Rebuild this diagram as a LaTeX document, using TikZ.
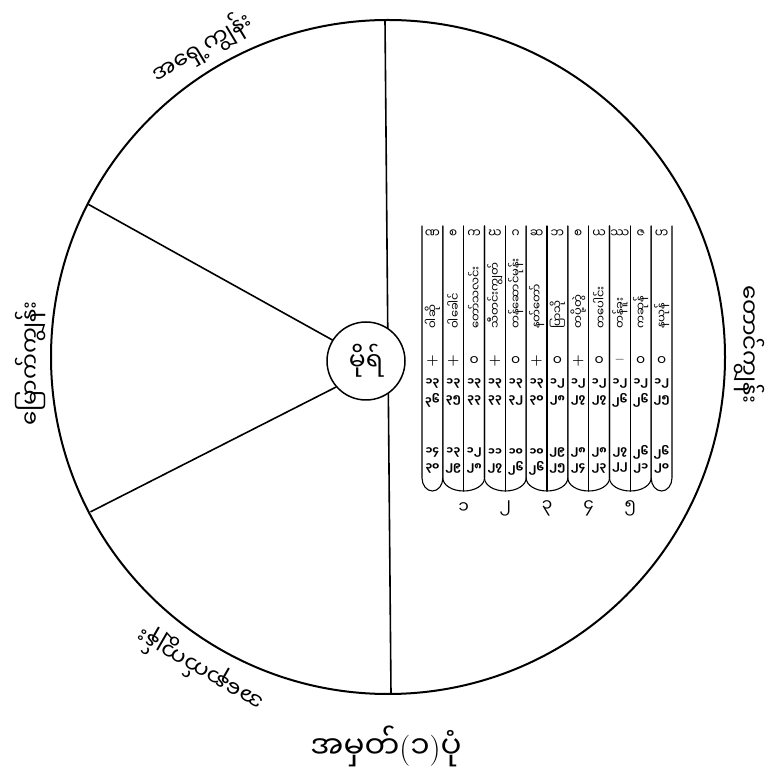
\documentclass[tikz,border=0pt]{standalone}
\usepackage{fontspec}
\newfontfamily\mya[Script=Myanmar]{Noto Sans Myanmar UI}
\newcommand\lpar{{\normalfont(}}
\newcommand\rpar{{\normalfont)}}
\newcommand\plus{{\normalfont\bfseries +}}
\newcommand\minus{{\normalfont\bfseries --}}

\begin{document}
\begin{tikzpicture}[x=1pt, y=1pt, line cap=round,
  island/.style={font=\mya\fontsize{23}{26}\selectfont, inner sep=0pt},
  cell/.style={font=\mya\bfseries\fontsize{10.5}{11}\selectfont, inner sep=0pt},
  tube/.style={line width=1.1pt}]
\useasboundingbox[fill=white] (0,0) rectangle (776,774);

\coordinate (c) at (388,417);
\coordinate (n) at (385,754);
\coordinate (s) at (391,80);
\coordinate (wu) at ([shift={(153:337)}]c);
\coordinate (wd) at ([shift={(207.5:335)}]c);
\draw[line width=2pt] (c) circle[radius=337pt];
\draw[line width=1.6pt] (n) -- (s);
\node[circle, draw, line width=1.5pt, fill=white, minimum size=78pt, inner sep=0pt,
  font=\mya\fontsize{25}{26}\selectfont] (meru) at (366,413) {မိုရ်};
\draw[line width=1.6pt] (wu) -- (meru.148);
\draw[line width=1.6pt] (wd) -- (meru.221);

\node[island, rotate=31] (east) at ([shift={(121:361)}]c) {အရှေ့ကျွန်း};
\node[island, rotate=-90] (south) at ([shift={(2:362)}]c) {တောင်ကျွန်း};
\node[island, rotate=90] (north) at ([shift={(181:358)}]c) {မြောက်ကျွန်း};
\node[island, rotate=150] (west) at ([shift={(239:364)}]c) {အနောက်ကျွန်း};
\node[island, font=\mya\fontsize{31}{34}\selectfont] (caption) at (386,28)
  {အမှတ်\lpar ၁\rpar ပုံ};

\foreach \xl/\xr in {422/442.83, 651.17/672}
  \draw[tube] (\xl,548) -- (\xl,296)
    arc[start angle=180, end angle=360, x radius=10.4pt, y radius=13pt] -- (\xr,548);
\foreach \xl/\xm/\xr/\g in {442.83/463.67/484.5/၁, 484.5/505.33/526.17/၂,
    526.17/547/567.83/၃, 567.83/588.67/609.5/၄, 609.5/630.33/651.17/၅}{
  \draw[tube] (\xl,548) -- (\xl,296)
    arc[start angle=180, end angle=360, x radius=20.83pt, y radius=13pt] -- (\xr,548);
  \draw[tube] (\xm,548) -- (\xm,283);
  \node[cell, font=\mya\fontsize{17}{18}\selectfont] (grp\g) at (\xm,266) {\g};
}

\foreach \lt/\mn/\sy/\na/\nb/\nc/\nd [count=\i] in {
    ဏ/ဝါဆို/\plus/၁၃/၃၆/၁၄/၃၀,
    စ/ဝါခေါင်/\plus/၁၃/၃၅/၁၃/၂၉,
    က/တော်သလင်း/၀/၁၃/၃၃/၁၂/၂၈,
    ဃ/သီတင်းကျွတ်/\plus/၁၃/၃၃/၁၁/၂၇,
    ဂ/တန်ဆောင်မုန်း/၀/၁၃/၃၂/၁၀/၂၆,
    ဆ/နတ်တော်/\plus/၁၃/၃၀/၁၀/၂၆,
    ဘ/ပြာသို/၀/၁၂/၂၈/၂၉/၂၅,
    စ/တပို့တွဲ/\plus/၁၂/၂၇/၂၈/၂၄,
    ယ/တပေါင်း/၀/၁၂/၂၇/၂၈/၂၃,
    ဿ/တန်ခူး/\minus/၁၂/၂၆/၂၇/၂၂,
    ဇ/ကဆုန်/၀/၁၂/၂၆/၂၆/၂၁,
    ဟ/နယုန်/၀/၁၂/၂၅/၂၆/၂၀}{
  \pgfmathsetmacro\xc{422+20.833*(\i-0.5)}
  \node[cell, font=\mya\fontsize{12}{12}\selectfont] (top\i) at (\xc,540) {\lt};
  \node[cell, rotate=90, anchor=west, font=\mya\fontsize{11.5}{12}\selectfont] (mon\i) at (\xc,445) {\mn};
  \node[cell, font=\mya\fontsize{14}{14}\selectfont] (sym\i) at (\xc,413) {\sy};
  \node[cell] (ra\i) at (\xc,391) {\na};
  \node[cell] (rb\i) at (\xc,374) {\nb};
  \node[cell] (rc\i) at (\xc,322) {\nc};
  \node[cell] (rd\i) at (\xc,306) {\nd};
}
\end{tikzpicture}
\end{document}
